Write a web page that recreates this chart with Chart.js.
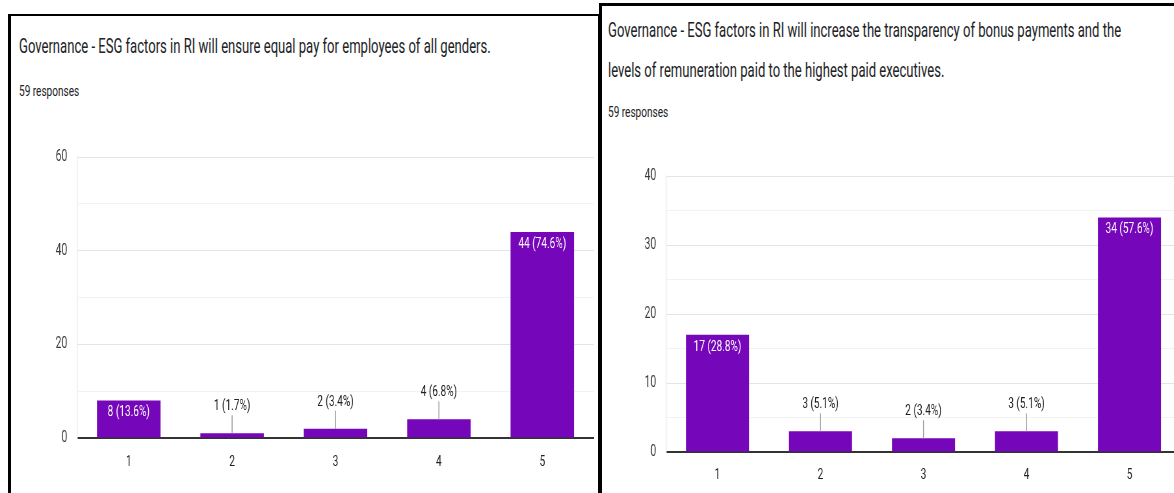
<!DOCTYPE html>
<html>
<head>
<meta charset="utf-8">
<script src="https://cdn.jsdelivr.net/npm/chart.js@4.4.1/dist/chart.umd.min.js"></script>
<style>
  html, body { margin: 0; padding: 0; background: #fff; }
  body { width: 1174px; height: 493px; overflow: hidden; position: relative; font-family: Roboto, "Noto Sans", sans-serif; }
  .panel { position: absolute; border: 3px solid #000; box-sizing: border-box; }
  .txt { position: absolute; white-space: nowrap; transform-origin: 0 50%; color: #202124; }
  .cv { position: absolute; top: 0; transform-origin: 0 0; }
</style>
</head>
<body>
<div class="panel" style="left:8px; top:14px; width:593px; height:520px; border-top-width:2.5px;"></div>
<div class="panel" style="left:599px; top:3px; width:620px; height:530px; border-right:none;"></div>

<div class="txt" id="t1" style="left:19px; top:35px; font-size:19.5px; line-height:24px; transform:scaleX(0.67);"></div>
<div class="txt" id="r1" style="left:19px; top:82px; font-size:15px; line-height:18px; transform:scaleX(0.67);"></div>
<div class="txt" id="t2a" style="left:608px; top:19px; font-size:19.5px; line-height:24px; transform:scaleX(0.67);"></div>
<div class="txt" id="t2b" style="left:608px; top:59px; font-size:19.5px; line-height:24px; transform:scaleX(0.67);"></div>
<div class="txt" id="r2" style="left:608px; top:103px; font-size:15px; line-height:18px; transform:scaleX(0.67);"></div>

<canvas id="c1" class="cv" width="923" height="493" style="left:0px; transform:scaleX(0.65);"></canvas>
<canvas id="c2" class="cv" width="923" height="493" style="left:600px; transform:scaleX(0.65);"></canvas>

<script>
// ---- data ----
const categories = ['1', '2', '3', '4', '5'];
const responses = 59;

const equalPayTitle = 'Governance - ESG factors in RI will ensure equal pay for employees of all genders.';
const equalPayCounts = [8, 1, 2, 4, 44];
const equalPayYLabels = [0, 20, 40, 60];

const bonusTitleLines = [
  'Governance - ESG factors in RI will increase the transparency of bonus payments and the',
  'levels of remuneration paid to the highest paid executives.'
];
const bonusCounts = [17, 3, 2, 3, 34];
const bonusYLabels = [0, 10, 20, 30, 40];

// ---- text ----
document.getElementById('t1').textContent = equalPayTitle;
document.getElementById('r1').textContent = responses + ' responses';
document.getElementById('t2a').textContent = bonusTitleLines[0];
document.getElementById('t2b').textContent = bonusTitleLines[1];
document.getElementById('r2').textContent = responses + ' responses';

const BAR = '#7606b9';

const valueLabels = {
  id: 'valueLabels',
  afterDatasetsDraw(chart, args, opts) {
    const ctx = chart.ctx;
    const meta = chart.getDatasetMeta(0);
    const data = chart.data.datasets[0].data;
    ctx.save();
    ctx.font = '15.5px Roboto';
    ctx.textAlign = 'center';
    ctx.textBaseline = 'middle';
    meta.data.forEach((bar, i) => {
      const v = data[i];
      const txt = v + ' (' + (v / opts.total * 100).toFixed(1) + '%)';
      const h = bar.base - bar.y;
      if (h > 26) {
        ctx.fillStyle = '#ffffff';
        ctx.fillText(txt, bar.x, bar.y + 12);
      } else {
        ctx.strokeStyle = '#9a9a9a';
        ctx.lineWidth = 1.5;
        ctx.beginPath();
        ctx.moveTo(bar.x, bar.y);
        ctx.lineTo(bar.x, bar.y - 18);
        ctx.stroke();
        ctx.fillStyle = '#222222';
        ctx.fillText(txt, bar.x, bar.y - 27);
      }
    });
    ctx.restore();
  }
};

function makeChart(id, counts, yLabels, cfg) {
  const step = yLabels[1] - yLabels[0];
  return new Chart(document.getElementById(id), {
    type: 'bar',
    data: {
      labels: categories,
      datasets: [{
        data: counts,
        backgroundColor: BAR,
        borderWidth: 0,
        barPercentage: cfg.barPct,
        categoryPercentage: 1
      }]
    },
    options: {
      responsive: false,
      animation: false,
      devicePixelRatio: 1,
      layout: { padding: { left: 0, right: cfg.padRight, top: cfg.padTop, bottom: 0 } },
      plugins: {
        legend: { display: false },
        tooltip: { enabled: false },
        title: { display: false },
        valueLabels: { total: responses }
      },
      scales: {
        x: {
          grid: { display: false, drawTicks: false },
          border: { display: true, color: '#333333', width: 2 },
          ticks: { color: '#222222', font: { family: 'Roboto', size: 15.5 }, padding: cfg.xPad },
          afterFit(axis) { axis.height = cfg.xHeight; }
        },
        y: {
          min: yLabels[0],
          max: yLabels[yLabels.length - 1],
          ticks: {
            stepSize: step / 2,
            color: '#3a3a3a',
            font: { family: 'Roboto', size: 16 },
            padding: 15,
            callback: (v) => yLabels.includes(v) ? String(v) : ''
          },
          grid: {
            drawTicks: false,
            color: (c) => yLabels.includes(c.tick.value) ? '#e4e4e4' : '#f2f2f2',
            lineWidth: 1
          },
          border: { display: true, color: '#ececec', width: 1.5 },
          afterFit(axis) { axis.width = cfg.yWidth; }
        }
      }
    },
    plugins: [valueLabels]
  });
}

makeChart('c1', equalPayCounts, equalPayYLabels, {
  barPct: 0.614, padRight: 9.2, padTop: 157, xHeight: 55, xPad: 15, yWidth: 118.5
});
makeChart('c2', bonusCounts, bonusYLabels, {
  barPct: 0.612, padRight: 29.2, padTop: 176, xHeight: 41, xPad: 14, yWidth: 101.5
});
</script>
</body>
</html>
